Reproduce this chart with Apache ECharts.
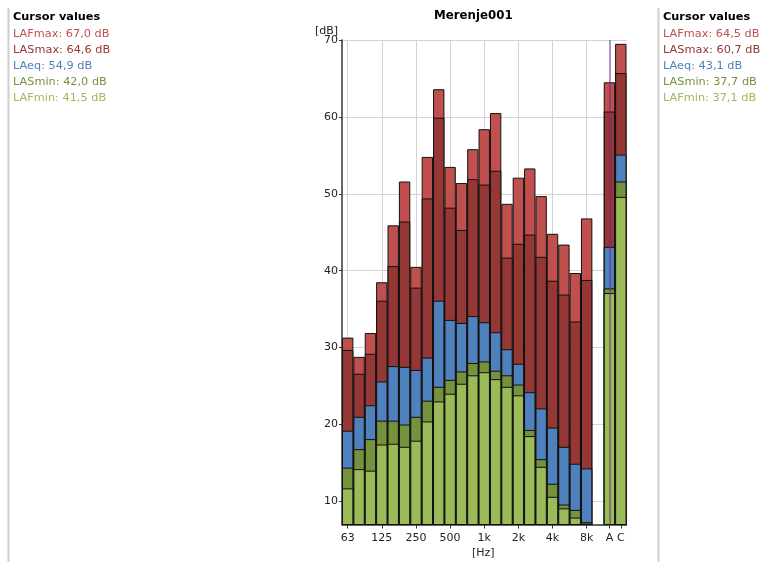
<!DOCTYPE html>
<html>
<head>
<meta charset="utf-8">
<script src="https://cdn.jsdelivr.net/npm/echarts@6/dist/echarts.min.js"></script>
<style>
html,body{margin:0;padding:0;background:#fff;}
#chart{width:767px;height:562px;}
</style>
</head>
<body>
<div id="chart"></div>
<script>
// ---- data ----
const categories = ['63','80','100','125','160','200','250','315','400','500','630','800','1k','1.25k','1.6k','2k','2.5k','3.15k','4k','5k','6.3k','8k','','A','C'];
const shownLabels = ['63','125','250','500','1k','2k','4k','8k','A','C'];
const gridCategories = ['63','125','250','500','1k','2k','4k','8k'];
const cursorCategory = 'A';
const yTicks = [10,20,30,40,50,60,70];

const LAFmax = [31.3, 28.8, 31.9, 38.5, 45.9, 51.6, 40.5, 54.8, 63.6, 53.5, 51.4, 55.8, 58.4, 60.5, 48.7, 52.1, 53.3, 49.7, 44.8, 43.4, 39.7, 46.8, null, 64.5, 69.5];
const LASmax = [29.7, 26.6, 29.2, 36.1, 40.6, 46.4, 37.8, 49.4, 59.9, 48.2, 45.3, 51.9, 51.2, 53.0, 41.7, 43.5, 44.7, 41.8, 38.7, 36.9, 33.4, 38.8, null, 60.7, 65.7];
const LAeq   = [19.2, 21.0, 22.5, 25.6, 27.6, 27.5, 27.1, 28.7, 36.1, 33.6, 33.2, 34.1, 33.3, 32.0, 29.8, 27.9, 24.2, 22.1, 19.6, 17.1, 14.9, 14.3, null, 43.1, 55.1];
const LASmin = [14.4, 16.8, 18.1, 20.5, 20.5, 20.0, 21.0, 23.1, 24.9, 25.8, 26.9, 28.0, 28.2, 27.0, 26.4, 25.2, 19.3, 15.5, 12.3, 9.6, 8.9, 7.3, null, 37.7, 51.6];
const LAFmin = [11.7, 14.2, 14.0, 17.4, 17.5, 17.1, 17.9, 20.4, 23.0, 24.0, 25.3, 26.4, 26.8, 25.9, 24.9, 23.8, 18.5, 14.5, 10.6, 9.1, 7.9, 7.1, null, 37.1, 49.6];

const seriesNames = ['LAFmax','LASmax','LAeq','LASmin','LAFmin'];
const seriesData = [LAFmax, LASmax, LAeq, LASmin, LAFmin];
const seriesColors = ['#c0504d','#953735','#4f81bd','#76923c','#9bbb59'];

const leftCursor = ['67,0','64,6','54,9','42,0','41,5'];
const rightCursor = ['64,5','60,7','43,1','37,7','37,1'];

const FONT = '"DejaVu Sans", Verdana, sans-serif';

// ---- build ----
const chart = echarts.init(document.getElementById('chart'), null, {renderer:'canvas'});

function panel(x, values) {
  const els = [{
    type:'text', left:x, top:12,
    style:{text:'Cursor values', font:'bold 11.3px ' + FONT, fill:'#000'}
  }];
  values.forEach((v, i) => {
    els.push({
      type:'text', left:x, top:28.5 + i*16.1,
      style:{text: seriesNames[i] + ': ' + v + ' dB', font:'11.3px ' + FONT, fill: seriesColors[i]}
    });
  });
  return els;
}

const bars = seriesData.map((d, i) => ({
  name: seriesNames[i],
  type: 'bar',
  data: d,
  barGap: '-100%',
  barCategoryGap: '0%',
  itemStyle: {color: seriesColors[i], borderColor: '#111', borderWidth: 1},
  emphasis: {disabled: true},
  animation: false,
  z: 3
}));

bars[bars.length-1].markLine = {
  silent: true, symbol: 'none', z: 10, animation:false,
  label: {show:false},
  lineStyle: {color: 'rgba(110,40,130,0.5)', width: 2, type:'solid'},
  data: [{xAxis: cursorCategory}]
};

const gridSeries = {
  name: 'grid', type: 'line', data: [], z: 1, silent: true, animation:false,
  markLine: {
    silent: true, symbol: 'none', z: 1, animation:false,
    label: {show:false},
    lineStyle: {color: '#d3d3d3', width: 1, type:'solid'},
    data: gridCategories.map(c => ({xAxis: c}))
  }
};

const option = {
  backgroundColor: '#fff',
  animation: false,
  title: {
    text: 'Merenje001', left: 434, top: 10, padding: 0,
    textStyle: {fontFamily: FONT, fontSize: 11.8, fontWeight: 'bold', color: '#000'}
  },
  grid: {left: 342, right: 140.5, top: 40, bottom: 37.5, containLabel: false},
  xAxis: {
    type: 'category',
    data: categories,
    boundaryGap: true,
    axisLine: {show: true, lineStyle: {color: '#333', width: 1.5}},
    axisTick: {
      show: true, alignWithLabel: true, length: 4,
      lineStyle: {color: '#333'},
      interval: (idx, val) => shownLabels.includes(val)
    },
    axisLabel: {
      interval: (idx, val) => shownLabels.includes(val),
      fontFamily: FONT, fontSize: 11, color: '#222', margin: 8
    },
    splitLine: {show: false}
  },
  yAxis: {
    type: 'value',
    min: 7, max: 70,
    axisLine: {show: true, lineStyle: {color: '#333', width: 1.5}},
    axisTick: {show: true, length: 3, lineStyle: {color: '#333'}, customValues: yTicks},
    axisLabel: {fontFamily: FONT, fontSize: 11, color: '#222', margin: 4, customValues: yTicks},
    splitLine: {show: true, lineStyle: {color: '#d3d3d3', width: 1}}
  },
  graphic: [
    {type:'line', shape:{x1:8.5, y1:8, x2:8.5, y2:562}, style:{stroke:'#d0d0d0', lineWidth:2}},
    {type:'line', shape:{x1:658.5, y1:8, x2:658.5, y2:562}, style:{stroke:'#d0d0d0', lineWidth:2}},
    {type:'text', left:315, top:26, style:{text:'[dB]', font:'11px ' + FONT, fill:'#222'}},
    {type:'text', left:472, top:548, style:{text:'[Hz]', font:'11px ' + FONT, fill:'#222'}},
    ...panel(13, leftCursor),
    ...panel(663, rightCursor)
  ],
  series: [gridSeries, ...bars]
};

chart.setOption(option);
</script>
</body>
</html>
